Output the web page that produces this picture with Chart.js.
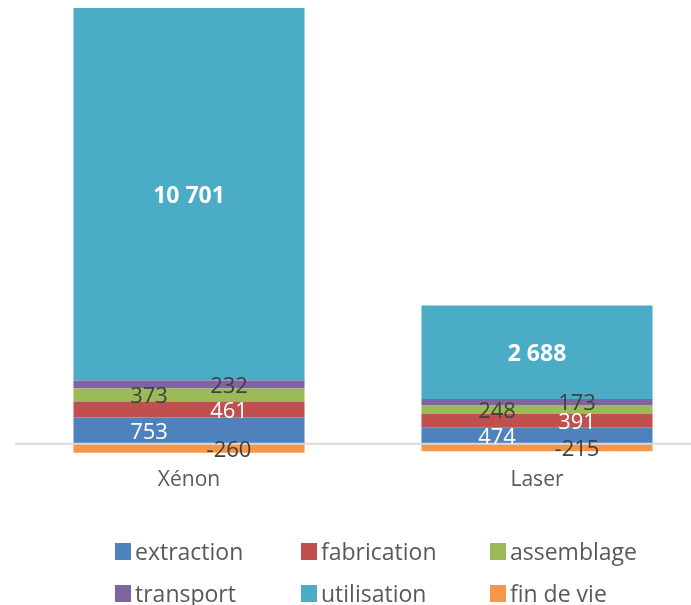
<!DOCTYPE html>
<html>
<head>
<meta charset="utf-8">
<script src="https://cdn.jsdelivr.net/npm/chart.js@4/dist/chart.umd.min.js"></script>
<style>
  html, body { margin: 0; padding: 0; background: #ffffff; overflow: hidden; width: 691px; height: 605px; }
  #wrap { position: absolute; left: 0; top: 0; width: 711px; height: 509px; }
  #legend { position: absolute; left: 0; top: 0; width: 691px; height: 605px; pointer-events: none;
            font-family: "Open Sans", sans-serif; font-size: 23px; color: #595959; }
  .item { position: absolute; display: flex; align-items: center; height: 30px; white-space: nowrap; }
  .sw { width: 16px; height: 17px; margin-right: 4px; }
</style>
</head>
<body>
<div id="wrap"><canvas id="c"></canvas></div>
<div id="legend"></div>
<script>
// ---- data ----
const categories = ['Xénon', 'Laser'];
const seriesNames = ['extraction', 'fabrication', 'assemblage', 'transport', 'utilisation', 'fin de vie'];
const extraction  = [753, 474];
const fabrication = [461, 391];
const assemblage  = [373, 248];
const transport   = [232, 173];
const utilisation = [10701, 2688];
const finDeVie    = [-260, -215];

// ---- styles ----
const seriesColors = ['#4F81BD', '#C0504D', '#9BBB59', '#8064A2', '#4BACC6', '#F79646'];
const labelColors  = ['#ffffff', '#ffffff', '#404040', '#404040', '#ffffff', '#404040'];
const labelOffsetX = [-40, 40, -40, 40, 0, 40];
const labelBold    = [false, false, false, false, true, false];

const seriesValues = [extraction, fabrication, assemblage, transport, utilisation, finDeVie];

function fmt(v) {
  return String(v).replace(/\B(?=(\d{3})+(?!\d))/g, ' ');
}

const zeroLine = {
  id: 'zeroLine',
  afterDatasetsDraw(chart) {
    const { ctx, chartArea } = chart;
    const y = chart.scales.y.getPixelForValue(0);
    ctx.save();
    ctx.strokeStyle = '#d9d9d9';
    ctx.lineWidth = 2;
    ctx.beginPath();
    ctx.moveTo(chartArea.left, y);
    ctx.lineTo(chartArea.right, y);
    ctx.stroke();
    ctx.restore();
  }
};

const valueLabels = {
  id: 'valueLabels',
  afterDraw(chart) {
    const { ctx } = chart;
    ctx.save();
    ctx.textAlign = 'center';
    ctx.textBaseline = 'middle';
    chart.data.datasets.forEach((ds, di) => {
      const meta = chart.getDatasetMeta(di);
      meta.data.forEach((el, i) => {
        const v = ds.data[i];
        const x = el.x + labelOffsetX[di];
        const y = (el.y + el.base) / 2 + 2;
        ctx.font = (labelBold[di] ? 'bold 23px' : '22px') + ' "Open Sans", sans-serif';
        ctx.fillStyle = labelColors[di];
        ctx.fillText(fmt(v), x, y);
      });
    });
    ctx.restore();
  }
};

new Chart(document.getElementById('c'), {
  type: 'bar',
  data: {
    labels: categories,
    datasets: seriesNames.map((n, i) => ({
      label: n,
      data: seriesValues[i],
      backgroundColor: seriesColors[i],
      borderWidth: 0,
      barPercentage: 1,
      categoryPercentage: 0.664
    }))
  },
  options: {
    responsive: true,
    maintainAspectRatio: false,
    animation: false,
    layout: { padding: { left: 15, top: 8, right: 0, bottom: 10 } },
    plugins: { legend: { display: false }, tooltip: { enabled: false } },
    scales: {
      x: {
        stacked: true,
        grid: { display: false },
        border: { display: false },
        ticks: { color: '#595959', font: { family: 'Open Sans', size: 21 }, padding: 6 }
      },
      y: {
        stacked: true,
        display: false,
        min: -288,
        max: 12520
      }
    }
  },
  plugins: [zeroLine, valueLabels]
});

// HTML legend in a 3x2 grid
const legendCols = [115, 301, 490];
const legendRows = [551, 593];
const lg = document.getElementById('legend');
seriesNames.forEach((n, i) => {
  const it = document.createElement('div');
  it.className = 'item';
  it.style.left = legendCols[i % 3] + 'px';
  it.style.top = (legendRows[Math.floor(i / 3)] - 15) + 'px';
  const sw = document.createElement('span');
  sw.className = 'sw';
  sw.style.background = seriesColors[i];
  const tx = document.createElement('span');
  tx.textContent = n;
  it.appendChild(sw);
  it.appendChild(tx);
  lg.appendChild(it);
});
</script>
</body>
</html>
